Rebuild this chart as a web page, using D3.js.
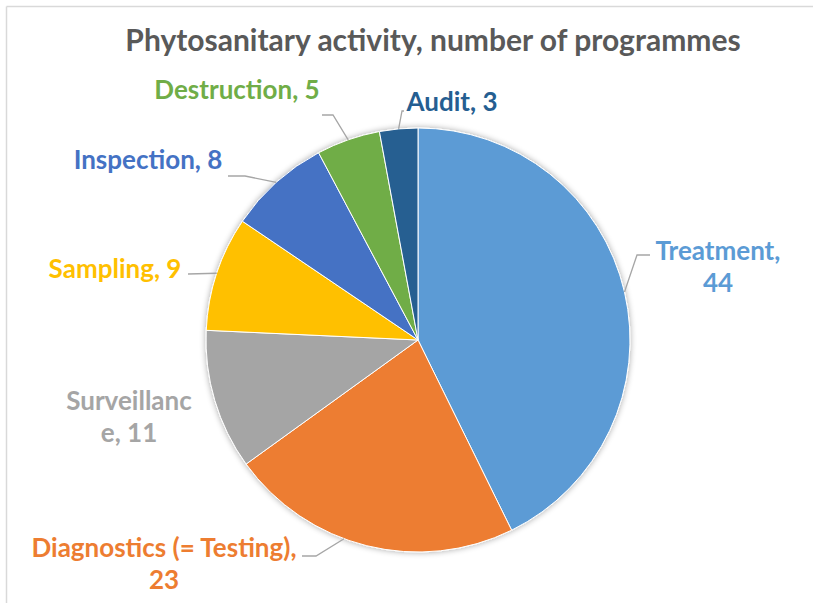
<!DOCTYPE html>
<html>
<head>
<meta charset="utf-8">
<script src="https://cdn.jsdelivr.net/npm/d3@7"></script>
<style>
  body { margin: 0; background: #fff; }
  svg { display: block; }
</style>
</head>
<body>
<svg id="chart" width="813" height="608"></svg>
<script>
const categories = ["Treatment", "Diagnostics (= Testing)", "Surveillance", "Sampling", "Inspection", "Destruction", "Audit"];
const values = [44, 23, 11, 9, 8, 5, 3];
const colors = ["#5B9BD5", "#ED7D31", "#A5A5A5", "#FFC000", "#4472C4", "#70AD47", "#255E91"];
// label text lines as printed in the chart
const labelLines = [
    ["Treatment,", "44"],
    ["Diagnostics (= Testing),", "23"],
    ["Surveillanc", "e, 11"],
    ["Sampling, 9"],
    ["Inspection, 8"],
    ["Destruction, 5"],
    ["Audit, 3"]
];

const width = 813, height = 608;
const cx = 418, cy = 340, radius = 212;
const fontFamily = "Lato, 'Open Sans', sans-serif";

// label placement: text centre (x, baseline of first line), leader elbow,
// and where along the slice (0..1) the leader meets the rim
const labelLayout = [
    {x: 718, y: 260, elbow: [637, 255], anchorX: 650, t: 0.5},
    {x: 164, y: 557, elbow: [316, 556], anchorX: 302, t: 0.58},
    {x: 129, y: 410, elbow: null},
    {x: 115, y: 278, elbow: [188, 274], anchorX: 188, t: 0.5},
    {x: 148, y: 169, elbow: [245, 176], anchorX: 228, t: 0.5},
    {x: 237, y: 99, elbow: [333, 115], anchorX: 322, t: 0.5},
    {x: 452, y: 111, elbow: [402, 111], anchorX: 404, t: 0.5}
];

const svg = d3.select("#chart");

// frame
svg.append("line")
    .attr("x1", 6.5).attr("y1", 6.5).attr("x2", width).attr("y2", 6.5)
    .attr("stroke", "#D9D9D9").attr("stroke-width", 1.5);
svg.append("line")
    .attr("x1", 6.5).attr("y1", 6.5).attr("x2", 6.5).attr("y2", 603)
    .attr("stroke", "#D9D9D9").attr("stroke-width", 1.5);

svg.append("text")
    .attr("x", 433)
    .attr("y", 51)
    .attr("text-anchor", "middle")
    .attr("font-family", fontFamily)
    .attr("font-weight", "bold")
    .attr("font-size", 30)
    .attr("fill", "#595959")
    .text("Phytosanitary activity, number of programmes");

const defs = svg.append("defs");
const filter = defs.append("filter").attr("id", "shadow")
    .attr("x", "-20%").attr("y", "-20%").attr("width", "140%").attr("height", "140%");
filter.append("feGaussianBlur").attr("in", "SourceAlpha").attr("stdDeviation", 3);
filter.append("feOffset").attr("dx", 0).attr("dy", 0).attr("result", "blur");
filter.append("feComponentTransfer").append("feFuncA").attr("type", "linear").attr("slope", 0.35);
const merge = filter.append("feMerge");
merge.append("feMergeNode");
merge.append("feMergeNode").attr("in", "SourceGraphic");

const pie = d3.pie().sort(null).value(d => d);
const arcs = pie(values);
const arc = d3.arc().innerRadius(0).outerRadius(radius);

const g = svg.append("g").attr("transform", `translate(${cx},${cy})`);

g.append("g")
    .attr("filter", "url(#shadow)")
    .selectAll("path")
    .data(arcs)
    .join("path")
    .attr("d", arc)
    .attr("fill", (_, i) => colors[i])
    .attr("stroke", "#fff")
    .attr("stroke-width", 1);

// leader lines
const leaders = svg.append("g");
arcs.forEach((a, i) => {
    const lay = labelLayout[i];
    if (!lay.elbow) return;
    const ang = a.startAngle + (a.endAngle - a.startAngle) * lay.t;
    const px = cx + radius * Math.sin(ang), py = cy - radius * Math.cos(ang);
    const pts = [[lay.anchorX, lay.elbow[1]], lay.elbow, [px, py]];
    leaders.append("path")
        .attr("d", d3.line()(pts))
        .attr("fill", "none")
        .attr("stroke", "#A6A6A6")
        .attr("stroke-width", 1.3);
});

// labels
const labels = svg.append("g");
arcs.forEach((a, i) => {
    const lay = labelLayout[i];
    const t = labels.append("text")
        .attr("text-anchor", "middle")
        .attr("font-family", fontFamily)
        .attr("font-weight", "bold")
        .attr("font-size", 26)
        .attr("fill", colors[i]);
    labelLines[i].forEach((line, j) => {
        t.append("tspan")
            .attr("x", lay.x)
            .attr("y", lay.y + j * 32)
            .text(line);
    });
});
</script>
</body>
</html>
